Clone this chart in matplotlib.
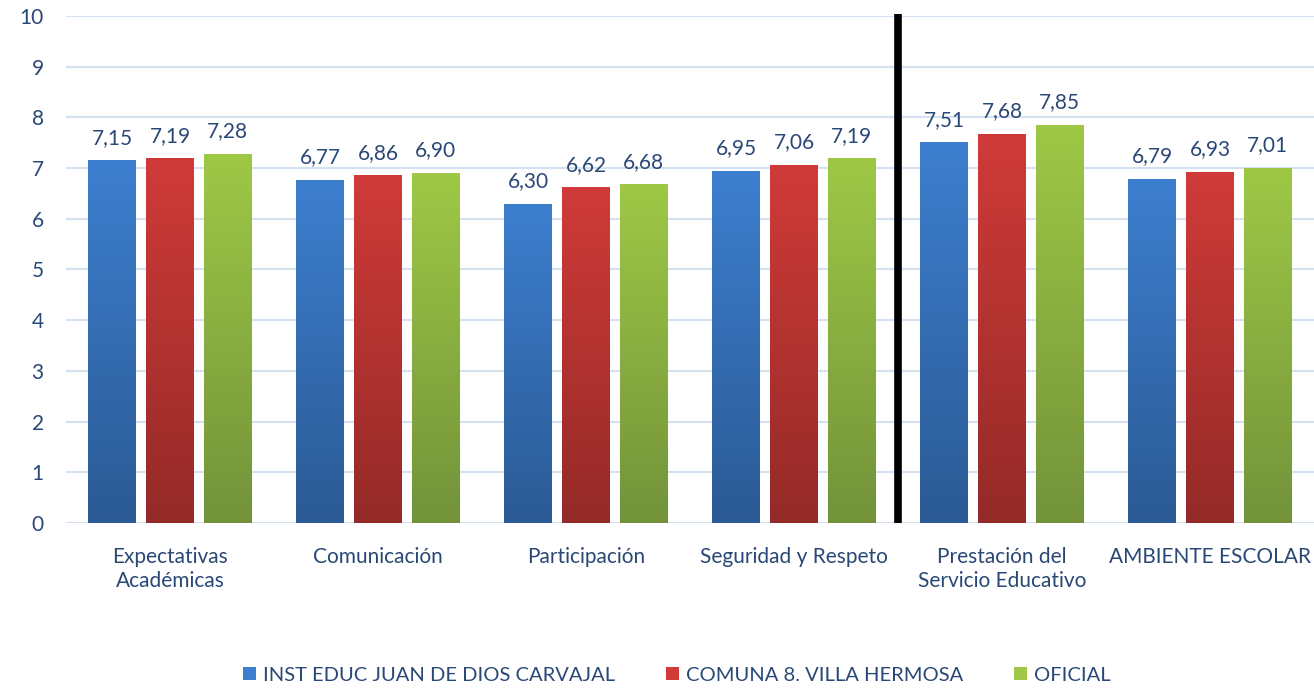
import numpy as np
import matplotlib.pyplot as plt
from matplotlib.colors import LinearSegmentedColormap
from matplotlib.patches import Patch

plt.rcParams['font.family'] = ['Lato', 'DejaVu Sans']

categories = ['Expectativas\nAcadémicas', 'Comunicación', 'Participación',
              'Seguridad y Respeto', 'Prestación del\nServicio Educativo', 'AMBIENTE ESCOLAR']
series_names = ['INST EDUC JUAN DE DIOS CARVAJAL', 'COMUNA 8. VILLA HERMOSA', 'OFICIAL']
inst = [7.15, 6.77, 6.30, 6.95, 7.51, 6.79]
comuna = [7.19, 6.86, 6.62, 7.06, 7.68, 6.93]
oficial = [7.28, 6.90, 6.68, 7.19, 7.85, 7.01]

# (top colour, bottom colour) for the vertical gradient
colors = [('#3d7fcf', '#2b5a94'), ('#d03b39', '#942a28'), ('#9fc846', '#72933a')]
text_color = '#2a4876'

fig = plt.figure(figsize=(13.14, 6.9), dpi=100)
ax = fig.add_axes([0.0502, 0.242, 0.9498, 0.735])

x = np.arange(len(categories))
width = 0.23
step = 0.277

for i, (vals, (top, bot)) in enumerate(zip([inst, comuna, oficial], colors)):
    bars = ax.bar(x + (i - 1) * step, vals, width, color=top, zorder=3)
    cmap = LinearSegmentedColormap.from_list('g%d' % i, [bot, top])
    grad = np.linspace(0, 1, 256).reshape(-1, 1)
    for b, v in zip(bars, vals):
        bx = b.get_x()
        im = ax.imshow(grad, cmap=cmap, origin='lower', aspect='auto',
                       extent=[bx, bx + width, 0, v], zorder=3)
        im.set_clip_path(b)
        b.set_facecolor('none')
        ax.annotate(('%.2f' % v).replace('.', ','), (bx + width / 2, v),
                    xytext=(0, 9), textcoords='offset points', ha='center', va='bottom',
                    fontsize=15, color=text_color)

# separator between subscales and the overall score
ax.axvline(3.5, ymin=0, ymax=1.004, color='black', linewidth=5.5, zorder=4,
           clip_on=False, solid_capstyle='butt')

ax.set_xlim(-0.5, 5.5)
ax.set_ylim(0, 10)
ax.set_yticks(range(0, 11))
ax.set_xticks(x)
ax.set_xticklabels(categories, linespacing=1.25)
ax.grid(axis='y', color='#d3e1f1', linewidth=1.5, zorder=0)
for s in ax.spines.values():
    s.set_visible(False)
ax.tick_params(length=0, labelsize=15, colors=text_color)
ax.tick_params(axis='x', pad=17)
ax.tick_params(axis='y', pad=16)

handles = [Patch(facecolor=c[0], edgecolor='none') for c in colors]
fig.legend(handles, series_names, loc='lower center', bbox_to_anchor=(0.515, -0.017),
           ncol=3, frameon=False, fontsize=14.5, labelcolor=text_color,
           handlelength=0.65, handleheight=0.65, handletextpad=0.35, columnspacing=2.5)

fig.savefig('out.png', dpi=100)
